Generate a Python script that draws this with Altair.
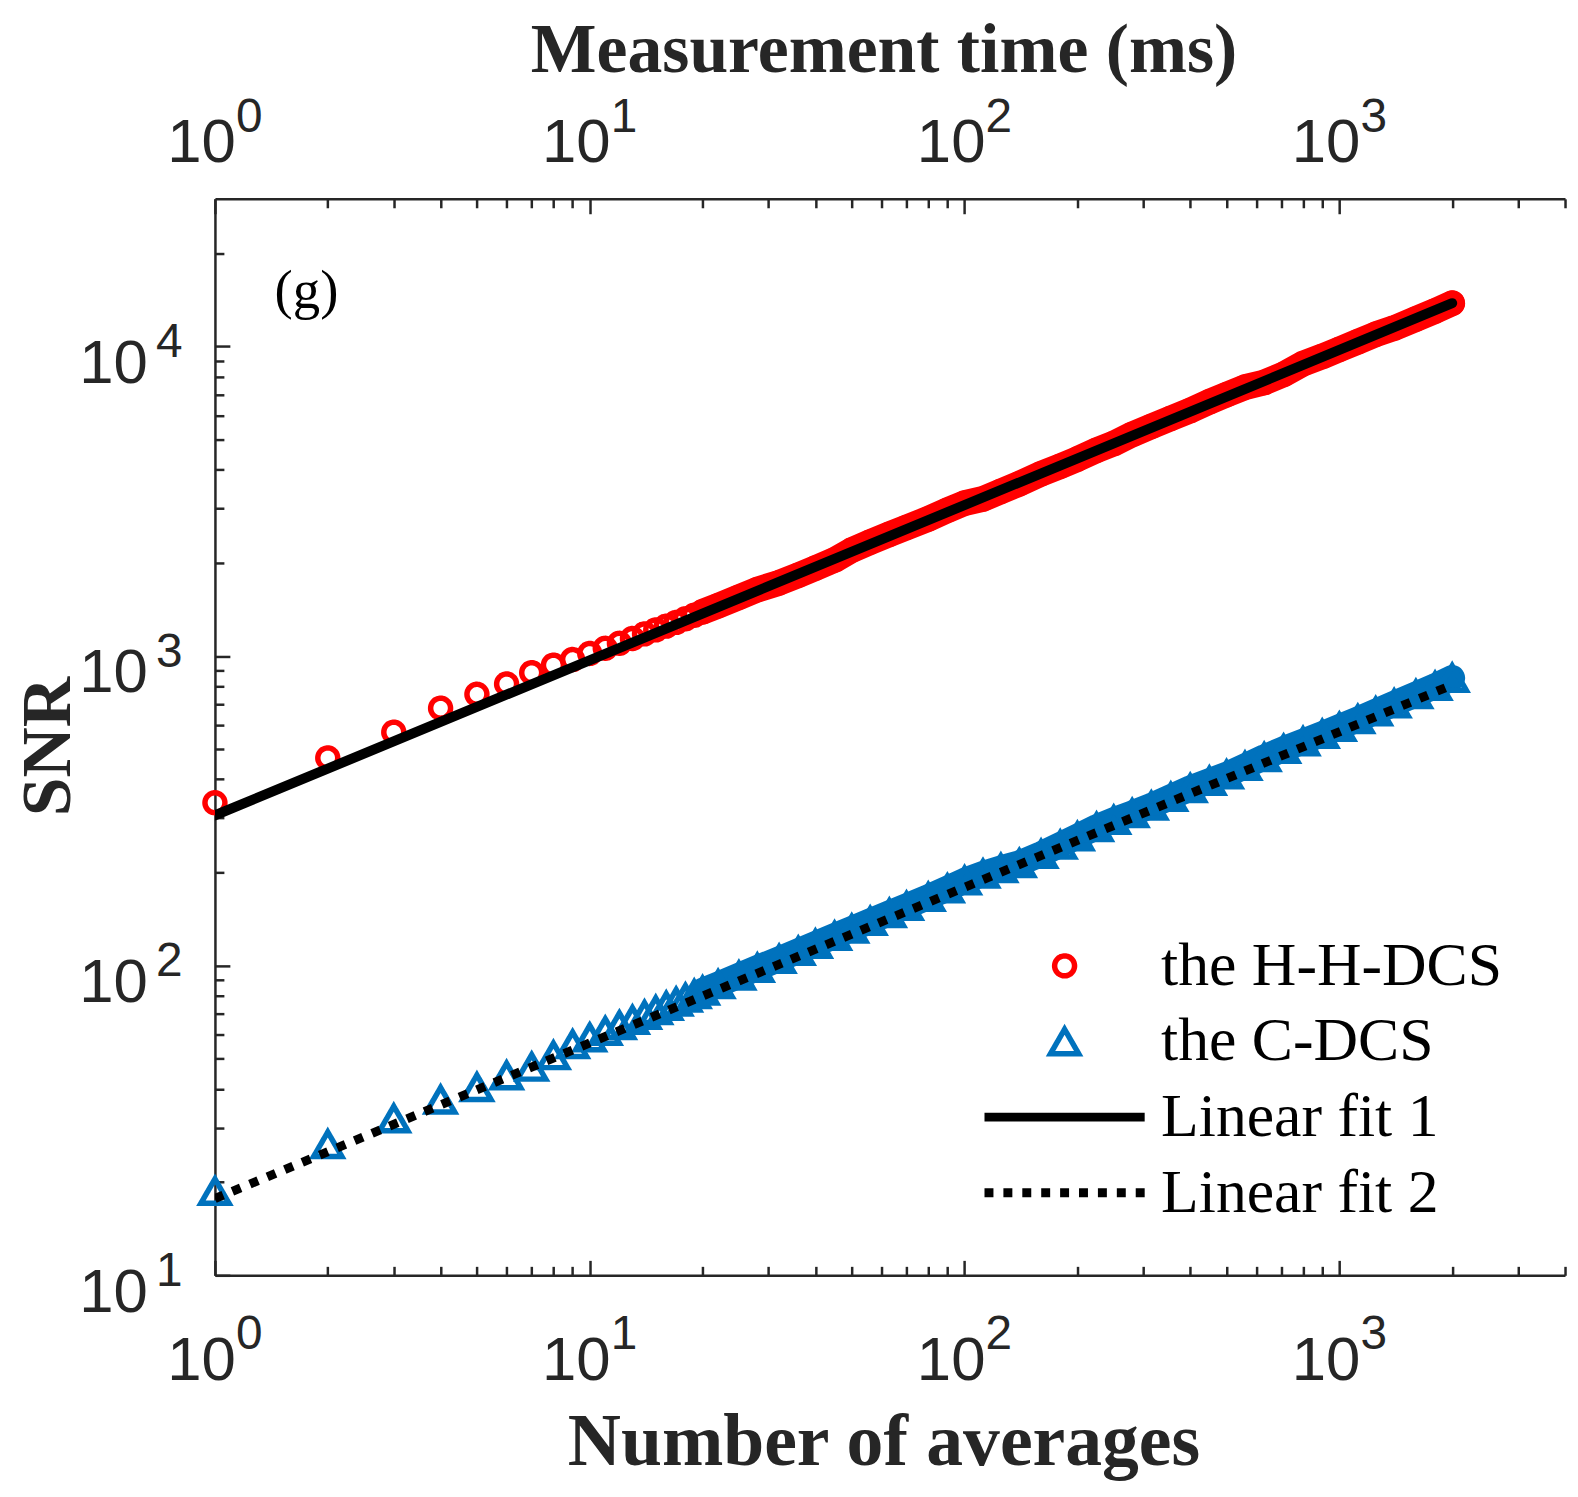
import altair as alt
import pandas as pd

# ---------------- data ----------------
# the H-H-DCS (red circles): individual points n = 1..20
hh_n_small = list(range(1, 21))
hh_snr_small = [336, 469, 568, 679, 753, 813, 884, 935, 975, 1020,
                1060, 1100, 1140, 1180, 1215, 1250, 1285, 1320, 1355, 1390]
# dense part (sampled along the band)
band_n = [20, 22, 25, 28, 32, 36, 40, 45, 50, 56,
          63, 70, 80, 90, 100, 112, 125, 140, 160, 180,
          200, 225, 250, 280, 315, 355, 400, 450, 500, 560,
          630, 710, 800, 900, 1000, 1120, 1250, 1400, 1600, 1800,
          2000]
hh_snr_band = [1390, 1455, 1550, 1640, 1725, 1825, 1925, 2045, 2200, 2335,
               2475, 2605, 2775, 2960, 3120, 3220, 3405, 3605, 3880, 4105,
               4330, 4620, 4860, 5200, 5520, 5860, 6210, 6630, 6990, 7390,
               7650, 8130, 8800, 9290, 9790, 10360, 10950, 11470, 12270, 13020,
               13800]
# the C-DCS (blue triangles)
c_snr_small = [18.7, 26.5, 32.1, 36.9, 40.5, 44.2, 47.1, 51.3, 55.7, 58.6,
               61.5, 64.2, 66.8, 69.3, 71.8, 74.1, 76.4, 78.7, 80.9, 83.0]
c_snr_band = [83.0, 87.0, 92.8, 98.3, 105.0, 111.5, 117.5, 124.7, 131.5, 139.3,
              147.7, 155.7, 166.6, 177.5, 188.2, 198.1, 206.4, 214.2, 229.2, 245.5,
              261.4, 280.1, 295.4, 310.5, 328.5, 350.4, 374.0, 395.0, 414.0, 441.0,
              471.0, 501.0, 530.0, 560.0, 590.0, 625.0, 662.0, 702.0, 752.0, 800.0,
              850.0]
# linear fits (end points, log-log)
fit_n = [1, 2000]
fit1_snr = [306, 13800]
fit2_snr = [17.7, 807]

series_names = ["the H-H-DCS", "the C-DCS", "Linear fit 1", "Linear fit 2"]
series_colors = ["#FF0000", "#0072BD", "#000000", "#000000"]

major_x = [1, 10, 100, 1000]
x_exponents = ["0", "1", "2", "3"]
minor_x = [2, 3, 4, 5, 6, 7, 8, 9, 20, 30, 40, 50, 60, 70, 80, 90,
           200, 300, 400, 500, 600, 700, 800, 900, 2000, 3000, 4000]
major_y = [10, 100, 1000, 10000]
y_exponents = ["1", "2", "3", "4"]
minor_y = [20, 30, 40, 50, 60, 70, 80, 90, 200, 300, 400, 500, 600, 700, 800, 900,
           2000, 3000, 4000, 5000, 6000, 7000, 8000, 9000, 20000]

# ---------------- tables ----------------
hh_pts = pd.DataFrame({"n": hh_n_small + band_n[1:],
                       "snr": hh_snr_small + hh_snr_band[1:],
                       "series": series_names[0]})
c_pts = pd.DataFrame({"n": hh_n_small + band_n[1:],
                      "snr": c_snr_small + c_snr_band[1:],
                      "series": series_names[1]})
hh_band = pd.DataFrame({"n": band_n, "snr": hh_snr_band})
c_band = pd.DataFrame({"n": band_n, "snr": c_snr_band})
fit1 = pd.DataFrame({"n": fit_n, "snr": fit1_snr})
fit2 = pd.DataFrame({"n": fit_n, "snr": fit2_snr})
label_df = pd.DataFrame({"n": [1.755], "snr": [13340], "t": ["(g)"]})

AX = "#262626"
XS = alt.Scale(type="log", domain=[1, 4000], nice=False)
YS = alt.Scale(type="log", domain=[10, 30000], nice=False)


def exp_expr(vals, exps):
    s = "''"
    for v, e in zip(reversed(vals), reversed(exps)):
        s = f"datum.value == {v} ? '{e}' : ({s})"
    return s


base_ax = dict(grid=False, labelFlush=False, labelOverlap=False)

# bottom axes
ax_b_dom = alt.Axis(orient="bottom", values=major_x, domain=True, domainColor=AX,
                    domainWidth=2.5, ticks=False, tickSize=0,
                    labelExpr=exp_expr(major_x, x_exponents), labelFont="Liberation Sans",
                    labelFontSize=48, labelColor=AX, labelBaseline="alphabetic",
                    labelPadding=74, labelOffset=34, labelAlign="center",
                    title="Number of averages", titleFont="Liberation Serif",
                    titleFontWeight="bold", titleFontSize=74, titleColor=AX,
                    titleX=672, titleY=190, titleBaseline="alphabetic", titleAlign="center",
                    **base_ax)
ax_b_maj = alt.Axis(orient="bottom", values=major_x, offset=-15, domain=False,
                    ticks=True, tickSize=15, tickWidth=2.5, tickColor=AX,
                    labelExpr="'10'", labelFont="Liberation Sans", labelFontSize=62,
                    labelColor=AX, labelBaseline="alphabetic", labelPadding=105,
                    labelOffset=-14, labelAlign="center", title=None, **base_ax)
ax_b_min = alt.Axis(orient="bottom", values=minor_x, offset=-9, domain=False,
                    ticks=True, tickSize=9, tickWidth=2.5, tickColor=AX,
                    labels=False, title=None, **base_ax)
# top axes
ax_t_dom = alt.Axis(orient="top", values=major_x, domain=True, domainColor=AX,
                    domainWidth=2.5, ticks=False, tickSize=0,
                    labelExpr=exp_expr(major_x, x_exponents), labelFont="Liberation Sans",
                    labelFontSize=48, labelColor=AX, labelBaseline="alphabetic",
                    labelPadding=68, labelOffset=34, labelAlign="center",
                    title="Measurement time (ms)", titleFont="Liberation Serif",
                    titleFontWeight="bold", titleFontSize=70, titleColor=AX,
                    titleX=672, titleY=-128, titleBaseline="alphabetic", titleAlign="center",
                    **base_ax)
ax_t_maj = alt.Axis(orient="top", values=major_x, offset=-15, domain=False,
                    ticks=True, tickSize=15, tickWidth=2.5, tickColor=AX,
                    labelExpr="'10'", labelFont="Liberation Sans", labelFontSize=62,
                    labelColor=AX, labelBaseline="alphabetic", labelPadding=37,
                    labelOffset=-14, labelAlign="center", title=None, **base_ax)
ax_t_min = alt.Axis(orient="top", values=minor_x, offset=-9, domain=False,
                    ticks=True, tickSize=9, tickWidth=2.5, tickColor=AX,
                    labels=False, title=None, **base_ax)
# left axes
ax_l_dom = alt.Axis(orient="left", values=major_y, domain=True, domainColor=AX,
                    domainWidth=2.5, ticks=False, tickSize=0,
                    labelExpr=exp_expr(major_y, y_exponents), labelFont="Liberation Sans",
                    labelFontSize=48, labelColor=AX, labelBaseline="alphabetic",
                    labelPadding=33, labelOffset=10, labelAlign="right",
                    title="SNR", titleFont="Liberation Serif", titleFontWeight="bold",
                    titleFontSize=70, titleColor=AX, titleX=-146, titleY=550,
                    titleAngle=270, titleBaseline="alphabetic", titleAlign="center",
                    **base_ax)
ax_l_maj = alt.Axis(orient="left", values=major_y, offset=-15, domain=False,
                    ticks=True, tickSize=15, tickWidth=2.5, tickColor=AX,
                    labelExpr="'10'", labelFont="Liberation Sans", labelFontSize=62,
                    labelColor=AX, labelBaseline="alphabetic", labelPadding=68,
                    labelOffset=36, labelAlign="right", title=None, **base_ax)
ax_l_min = alt.Axis(orient="left", values=minor_y, offset=-9, domain=False,
                    ticks=True, tickSize=9, tickWidth=2.5, tickColor=AX,
                    labels=False, title=None, **base_ax)

leg = alt.Legend(orient="none", legendX=769, legendY=733, direction="vertical",
                 title=None, labelFont="Liberation Serif", labelFontSize=62,
                 labelColor="black", labelLimit=0, labelOffset=12, padding=0,
                 rowPadding=0, clipHeight=76, symbolOffset=0, symbolOpacity=1)

color_enc = alt.Color("series:N", scale=alt.Scale(domain=series_names, range=series_colors), legend=leg)
shape_enc = alt.Shape("series:N", scale=alt.Scale(domain=series_names,
                      range=["circle", "triangle-up", "M-1,0L1,0", "M-1,0L1,0"]), legend=leg)
size_enc = alt.Size("series:N", scale=alt.Scale(type="ordinal", domain=series_names,
                    range=[400, 800, 25921, 25921]), legend=leg)
sw_enc = alt.StrokeWidth("series:N", scale=alt.Scale(type="ordinal", domain=series_names,
                         range=[5.5, 5.5, 9, 9]), legend=leg)
dash_enc = alt.StrokeDash("series:N", scale=alt.Scale(domain=series_names,
                          range=[[1, 0], [1, 0], [1, 0], [9, 10]]), legend=leg)

red_band = alt.Chart(hh_band).mark_line(color="#FF0000", strokeWidth=26, strokeCap="round",
                                        strokeJoin="round", opacity=1).encode(
    x=alt.X("n:Q", scale=XS, axis=ax_b_dom),
    y=alt.Y("snr:Q", scale=YS, axis=ax_l_dom))

red_pts = alt.Chart(hh_pts).mark_point(filled=False, opacity=1).encode(
    x=alt.X("n:Q", scale=XS, axis=ax_b_maj),
    y=alt.Y("snr:Q", scale=YS, axis=ax_l_maj),
    color=color_enc, shape=shape_enc, size=size_enc, strokeWidth=sw_enc, strokeDash=dash_enc)

blue_band = alt.Chart(c_band).mark_line(color="#0072BD", strokeWidth=26, strokeCap="round",
                                        strokeJoin="round", opacity=1).encode(
    x=alt.X("n:Q", scale=XS, axis=ax_b_min),
    y=alt.Y("snr:Q", scale=YS, axis=ax_l_min))

blue_pts = alt.Chart(c_pts).mark_point(filled=False, opacity=1).encode(
    x=alt.X("n:Q", scale=XS, axis=ax_t_dom),
    y=alt.Y("snr:Q", scale=YS, axis=None),
    color=color_enc, shape=shape_enc, size=size_enc, strokeWidth=sw_enc, strokeDash=dash_enc)

fit1_line = alt.Chart(fit1).mark_line(color="black", strokeWidth=10, strokeCap="round",
                                      clip=True, opacity=1).encode(
    x=alt.X("n:Q", scale=XS, axis=ax_t_maj),
    y=alt.Y("snr:Q", scale=YS, axis=None))

fit2_line = alt.Chart(fit2).mark_line(color="black", strokeWidth=9, strokeDash=[9, 10],
                                      strokeCap="butt", clip=True, opacity=1).encode(
    x=alt.X("n:Q", scale=XS, axis=ax_t_min),
    y=alt.Y("snr:Q", scale=YS, axis=None))

g_text = alt.Chart(label_df).mark_text(font="Liberation Serif", fontSize=55, color="black",
                                       align="center", baseline="alphabetic").encode(
    x=alt.X("n:Q", scale=XS, axis=None),
    y=alt.Y("snr:Q", scale=YS, axis=None),
    text="t:N")

chart = alt.layer(red_band, red_pts, blue_band, blue_pts, fit1_line, fit2_line, g_text).resolve_axis(
    x="independent", y="independent"
).properties(
    width=1357, height=1082,
    autosize=alt.AutoSizeParams(type="none"),
    padding={"left": 208, "top": 188, "right": 5, "bottom": 210},
    background="white",
    view=alt.ViewBackground(stroke="transparent", strokeWidth=0),
).configure_view(strokeWidth=0, stroke="transparent")

chart.save("out.html", embed_options={"renderer": "svg", "actions": False})
